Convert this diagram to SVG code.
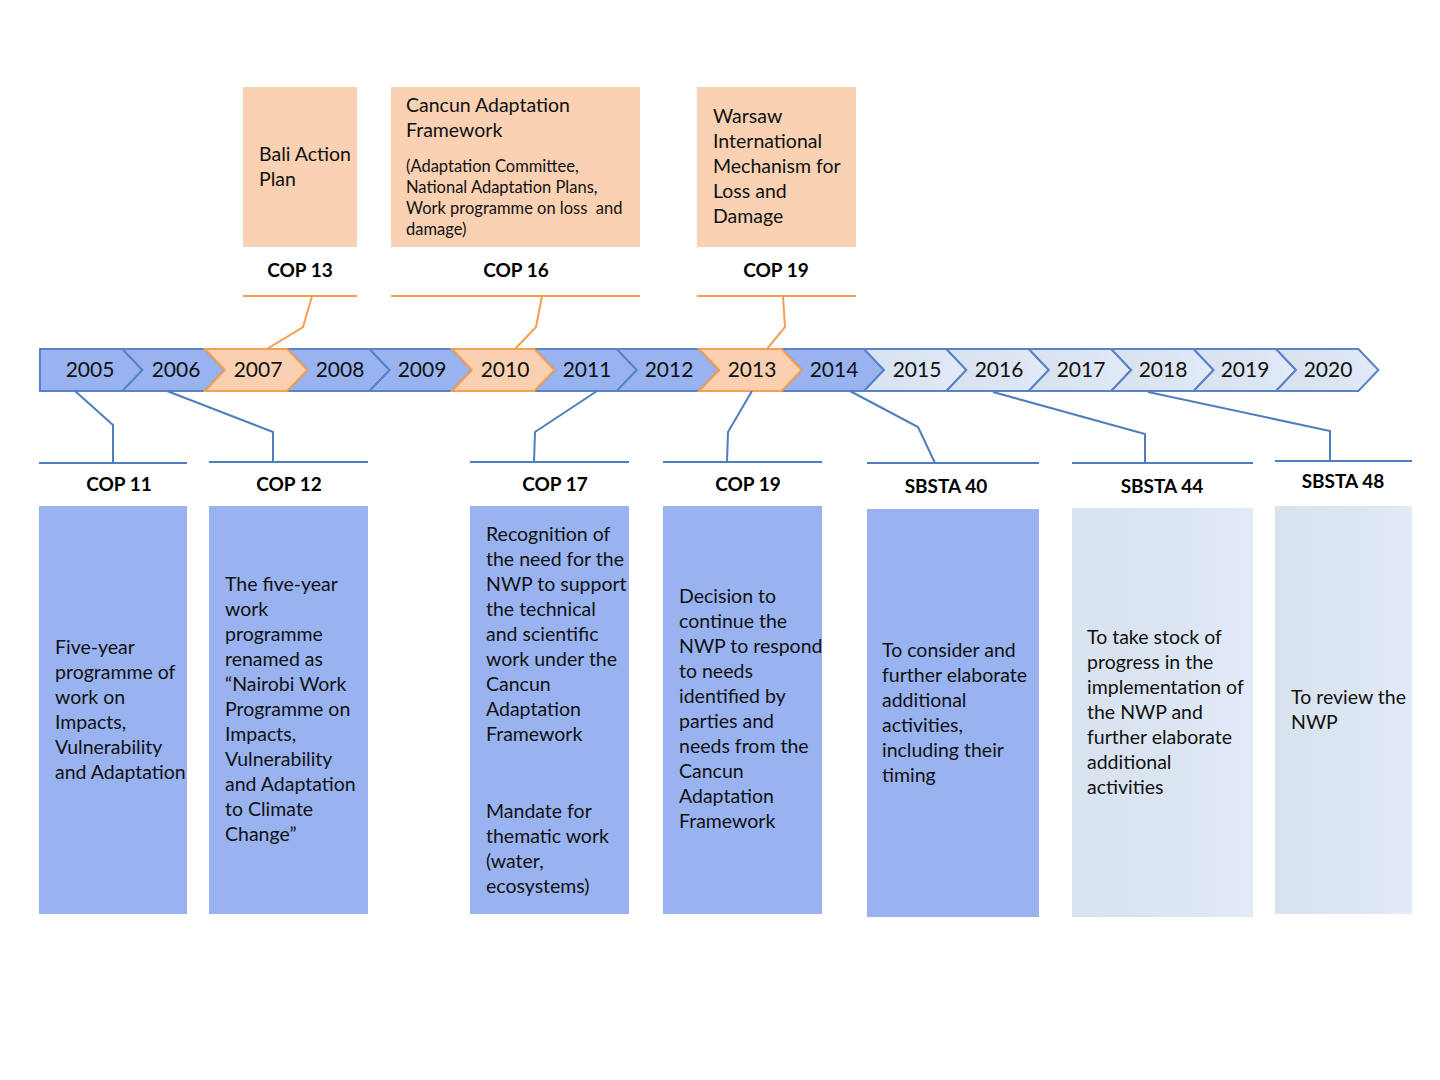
<svg xmlns="http://www.w3.org/2000/svg" width="1440" height="1080" viewBox="0 0 1440 1080">
<defs>
<linearGradient id="lightGrad" x1="0" y1="0" x2="1" y2="0">
<stop offset="0" stop-color="#D9E2EF"/>
<stop offset="0.6" stop-color="#DCE5F2"/>
<stop offset="1" stop-color="#E3EBFA"/>
</linearGradient>
<style>
.bg{fill:#FFFFFF}
.chB{fill:#98B3F0;stroke:#5A82C6;stroke-width:2;stroke-linejoin:miter}
.chO{fill:#FAD0B0;stroke:#F5A050;stroke-width:2;stroke-linejoin:miter}
.chL{fill:url(#lightGrad);stroke:#5A82C6;stroke-width:2;stroke-linejoin:miter}
.yr{font-family:Lato,"Liberation Sans",sans-serif;font-weight:400;font-size:21px;fill:#111;text-anchor:middle}
.boxB{fill:#99B3F1}
.boxL{fill:url(#lightGrad)}
.boxO{fill:#FAD1B2}
.t{font-family:Lato,"Liberation Sans",sans-serif;font-size:19.5px;fill:#111}
.ts{font-family:Lato,"Liberation Sans",sans-serif;font-size:16.5px;fill:#111}
.lbl{font-family:Lato,"Liberation Sans",sans-serif;font-weight:bold;font-size:19px;fill:#000;text-anchor:middle}
.cB{fill:none;stroke:#4F7DC0;stroke-width:2}
.cO{fill:none;stroke:#F0A050;stroke-width:2}
</style>
</defs>
<rect class="bg" x="0" y="0" width="1440" height="1080"/>

<g id="timeline">
<polygon class="chB" points="40,349 122.4,349 142.4,370 122.4,391 40,391"/>
<polygon class="chB" points="122.4,349 204.8,349 224.8,370 204.8,391 122.4,391 142.4,370"/>
<polygon class="chB" points="287.2,349 369.6,349 389.6,370 369.6,391 287.2,391 307.2,370"/>
<polygon class="chB" points="369.6,349 452,349 472,370 452,391 369.6,391 389.6,370"/>
<polygon class="chB" points="534.4,349 616.8,349 636.8,370 616.8,391 534.4,391 554.4,370"/>
<polygon class="chB" points="616.8,349 699.2,349 719.2,370 699.2,391 616.8,391 636.8,370"/>
<polygon class="chB" points="781.6,349 864,349 884,370 864,391 781.6,391 801.6,370"/>
<polygon class="chL" points="864,349 946.4,349 966.4,370 946.4,391 864,391 884,370"/>
<polygon class="chL" points="946.4,349 1028.8,349 1048.8,370 1028.8,391 946.4,391 966.4,370"/>
<polygon class="chL" points="1028.8,349 1111.2,349 1131.2,370 1111.2,391 1028.8,391 1048.8,370"/>
<polygon class="chL" points="1111.2,349 1193.6,349 1213.6,370 1193.6,391 1111.2,391 1131.2,370"/>
<polygon class="chL" points="1193.6,349 1276,349 1296,370 1276,391 1193.6,391 1213.6,370"/>
<polygon class="chL" points="1276,349 1358.4,349 1378.4,370 1358.4,391 1276,391 1296,370"/>
<polygon class="chO" points="204.8,349 287.2,349 307.2,370 287.2,391 204.8,391 224.8,370"/>
<polygon class="chO" points="452,349 534.4,349 554.4,370 534.4,391 452,391 472,370"/>
<polygon class="chO" points="699.2,349 781.6,349 801.6,370 781.6,391 699.2,391 719.2,370"/>
<text class="yr" x="90" y="377">2005</text>
<text class="yr" x="176" y="377">2006</text>
<text class="yr" x="258" y="377">2007</text>
<text class="yr" x="340" y="377">2008</text>
<text class="yr" x="422" y="377">2009</text>
<text class="yr" x="505" y="377">2010</text>
<text class="yr" x="587" y="377">2011</text>
<text class="yr" x="669" y="377">2012</text>
<text class="yr" x="752" y="377">2013</text>
<text class="yr" x="834" y="377">2014</text>
<text class="yr" x="917" y="377">2015</text>
<text class="yr" x="999" y="377">2016</text>
<text class="yr" x="1081" y="377">2017</text>
<text class="yr" x="1163" y="377">2018</text>
<text class="yr" x="1245" y="377">2019</text>
<text class="yr" x="1328" y="377">2020</text>
</g>

<g id="connectors">
<line class="cO" x1="243" y1="296" x2="357" y2="296"/>
<polyline class="cO" points="267,349 303,327 312,296"/>
<line class="cO" x1="391" y1="296" x2="640" y2="296"/>
<polyline class="cO" points="515,349 536,327 542,296"/>
<line class="cO" x1="697" y1="296" x2="856" y2="296"/>
<polyline class="cO" points="767,349 785,327 783,296"/>

<line class="cB" x1="39" y1="463" x2="187" y2="463"/>
<polyline class="cB" points="75,391 113,425 113,463"/>
<line class="cB" x1="209" y1="462" x2="368" y2="462"/>
<polyline class="cB" points="167,391 273,432 273,462"/>
<line class="cB" x1="470" y1="462" x2="629" y2="462"/>
<polyline class="cB" points="597,391 535,432 534,462"/>
<line class="cB" x1="663" y1="462" x2="822" y2="462"/>
<polyline class="cB" points="752,391 728,432 727,462"/>
<line class="cB" x1="867" y1="463" x2="1039" y2="463"/>
<polyline class="cB" points="850,391 918,427 935,463"/>
<line class="cB" x1="1072" y1="463" x2="1253" y2="463"/>
<polyline class="cB" points="993,392 1145,434 1145,463"/>
<line class="cB" x1="1275" y1="461" x2="1412" y2="461"/>
<polyline class="cB" points="1148,392 1330,431 1330,461"/>
</g>

<g id="cop13">
<rect class="boxO" x="243" y="87" width="114" height="160"/>
<text class="t" x="259" y="161">Bali Action</text>
<text class="t" x="259" y="186">Plan</text>
<text class="lbl" x="300" y="277">COP 13</text>
</g>

<g id="cop16">
<rect class="boxO" x="391" y="87" width="249" height="160"/>
<text class="t" x="406" y="112">Cancun Adaptation</text>
<text class="t" x="406" y="137">Framework</text>
<text class="ts" x="406" y="172">(Adaptation Committee,</text>
<text class="ts" x="406" y="193">National Adaptation Plans,</text>
<text class="ts" x="406" y="214" xml:space="preserve">Work programme on loss  and</text>
<text class="ts" x="406" y="235">damage)</text>
<text class="lbl" x="516" y="277">COP 16</text>
</g>

<g id="cop19top">
<rect class="boxO" x="697" y="87" width="159" height="160"/>
<text class="t" x="713" y="123">Warsaw</text>
<text class="t" x="713" y="148">International</text>
<text class="t" x="713" y="173">Mechanism for</text>
<text class="t" x="713" y="198">Loss and</text>
<text class="t" x="713" y="223">Damage</text>
<text class="lbl" x="776" y="277">COP 19</text>
</g>

<g id="cop11">
<text class="lbl" x="119" y="491">COP 11</text>
<rect class="boxB" x="39" y="506" width="148" height="408"/>
<text class="t" x="55" y="654">Five-year</text>
<text class="t" x="55" y="679">programme of</text>
<text class="t" x="55" y="704">work on</text>
<text class="t" x="55" y="729">Impacts,</text>
<text class="t" x="55" y="754">Vulnerability</text>
<text class="t" x="55" y="779">and Adaptation</text>
</g>

<g id="cop12">
<text class="lbl" x="289" y="491">COP 12</text>
<rect class="boxB" x="209" y="506" width="159" height="408"/>
<text class="t" x="225" y="591">The five-year</text>
<text class="t" x="225" y="616">work</text>
<text class="t" x="225" y="641">programme</text>
<text class="t" x="225" y="666">renamed as</text>
<text class="t" x="225" y="691">“Nairobi Work</text>
<text class="t" x="225" y="716">Programme on</text>
<text class="t" x="225" y="741">Impacts,</text>
<text class="t" x="225" y="766">Vulnerability</text>
<text class="t" x="225" y="791">and Adaptation</text>
<text class="t" x="225" y="816">to Climate</text>
<text class="t" x="225" y="841">Change”</text>
</g>

<g id="cop17">
<text class="lbl" x="555" y="491">COP 17</text>
<rect class="boxB" x="470" y="506" width="159" height="408"/>
<text class="t" x="486" y="541">Recognition of</text>
<text class="t" x="486" y="566">the need for the</text>
<text class="t" x="486" y="591">NWP to support</text>
<text class="t" x="486" y="616">the technical</text>
<text class="t" x="486" y="641">and scientific</text>
<text class="t" x="486" y="666">work under the</text>
<text class="t" x="486" y="691">Cancun</text>
<text class="t" x="486" y="716">Adaptation</text>
<text class="t" x="486" y="741">Framework</text>
<text class="t" x="486" y="818">Mandate for</text>
<text class="t" x="486" y="843">thematic work</text>
<text class="t" x="486" y="868">(water,</text>
<text class="t" x="486" y="893">ecosystems)</text>
</g>

<g id="cop19">
<text class="lbl" x="748" y="491">COP 19</text>
<rect class="boxB" x="663" y="506" width="159" height="408"/>
<text class="t" x="679" y="603">Decision to</text>
<text class="t" x="679" y="628">continue the</text>
<text class="t" x="679" y="653">NWP to respond</text>
<text class="t" x="679" y="678">to needs</text>
<text class="t" x="679" y="703">identified by</text>
<text class="t" x="679" y="728">parties and</text>
<text class="t" x="679" y="753">needs from the</text>
<text class="t" x="679" y="778">Cancun</text>
<text class="t" x="679" y="803">Adaptation</text>
<text class="t" x="679" y="828">Framework</text>
</g>

<g id="sbsta40">
<text class="lbl" x="946" y="493">SBSTA 40</text>
<rect class="boxB" x="867" y="509" width="172" height="408"/>
<text class="t" x="882" y="657">To consider and</text>
<text class="t" x="882" y="682">further elaborate</text>
<text class="t" x="882" y="707">additional</text>
<text class="t" x="882" y="732">activities,</text>
<text class="t" x="882" y="757">including their</text>
<text class="t" x="882" y="782">timing</text>
</g>

<g id="sbsta44">
<text class="lbl" x="1162" y="493">SBSTA 44</text>
<rect class="boxL" x="1072" y="508" width="181" height="409"/>
<text class="t" x="1087" y="644">To take stock of</text>
<text class="t" x="1087" y="669">progress in the</text>
<text class="t" x="1087" y="694">implementation of</text>
<text class="t" x="1087" y="719">the NWP and</text>
<text class="t" x="1087" y="744">further elaborate</text>
<text class="t" x="1087" y="769">additional</text>
<text class="t" x="1087" y="794">activities</text>
</g>

<g id="sbsta48">
<text class="lbl" x="1343" y="488">SBSTA 48</text>
<rect class="boxL" x="1275" y="506" width="137" height="408"/>
<text class="t" x="1291" y="704">To review the</text>
<text class="t" x="1291" y="729">NWP</text>
</g>
</svg>
